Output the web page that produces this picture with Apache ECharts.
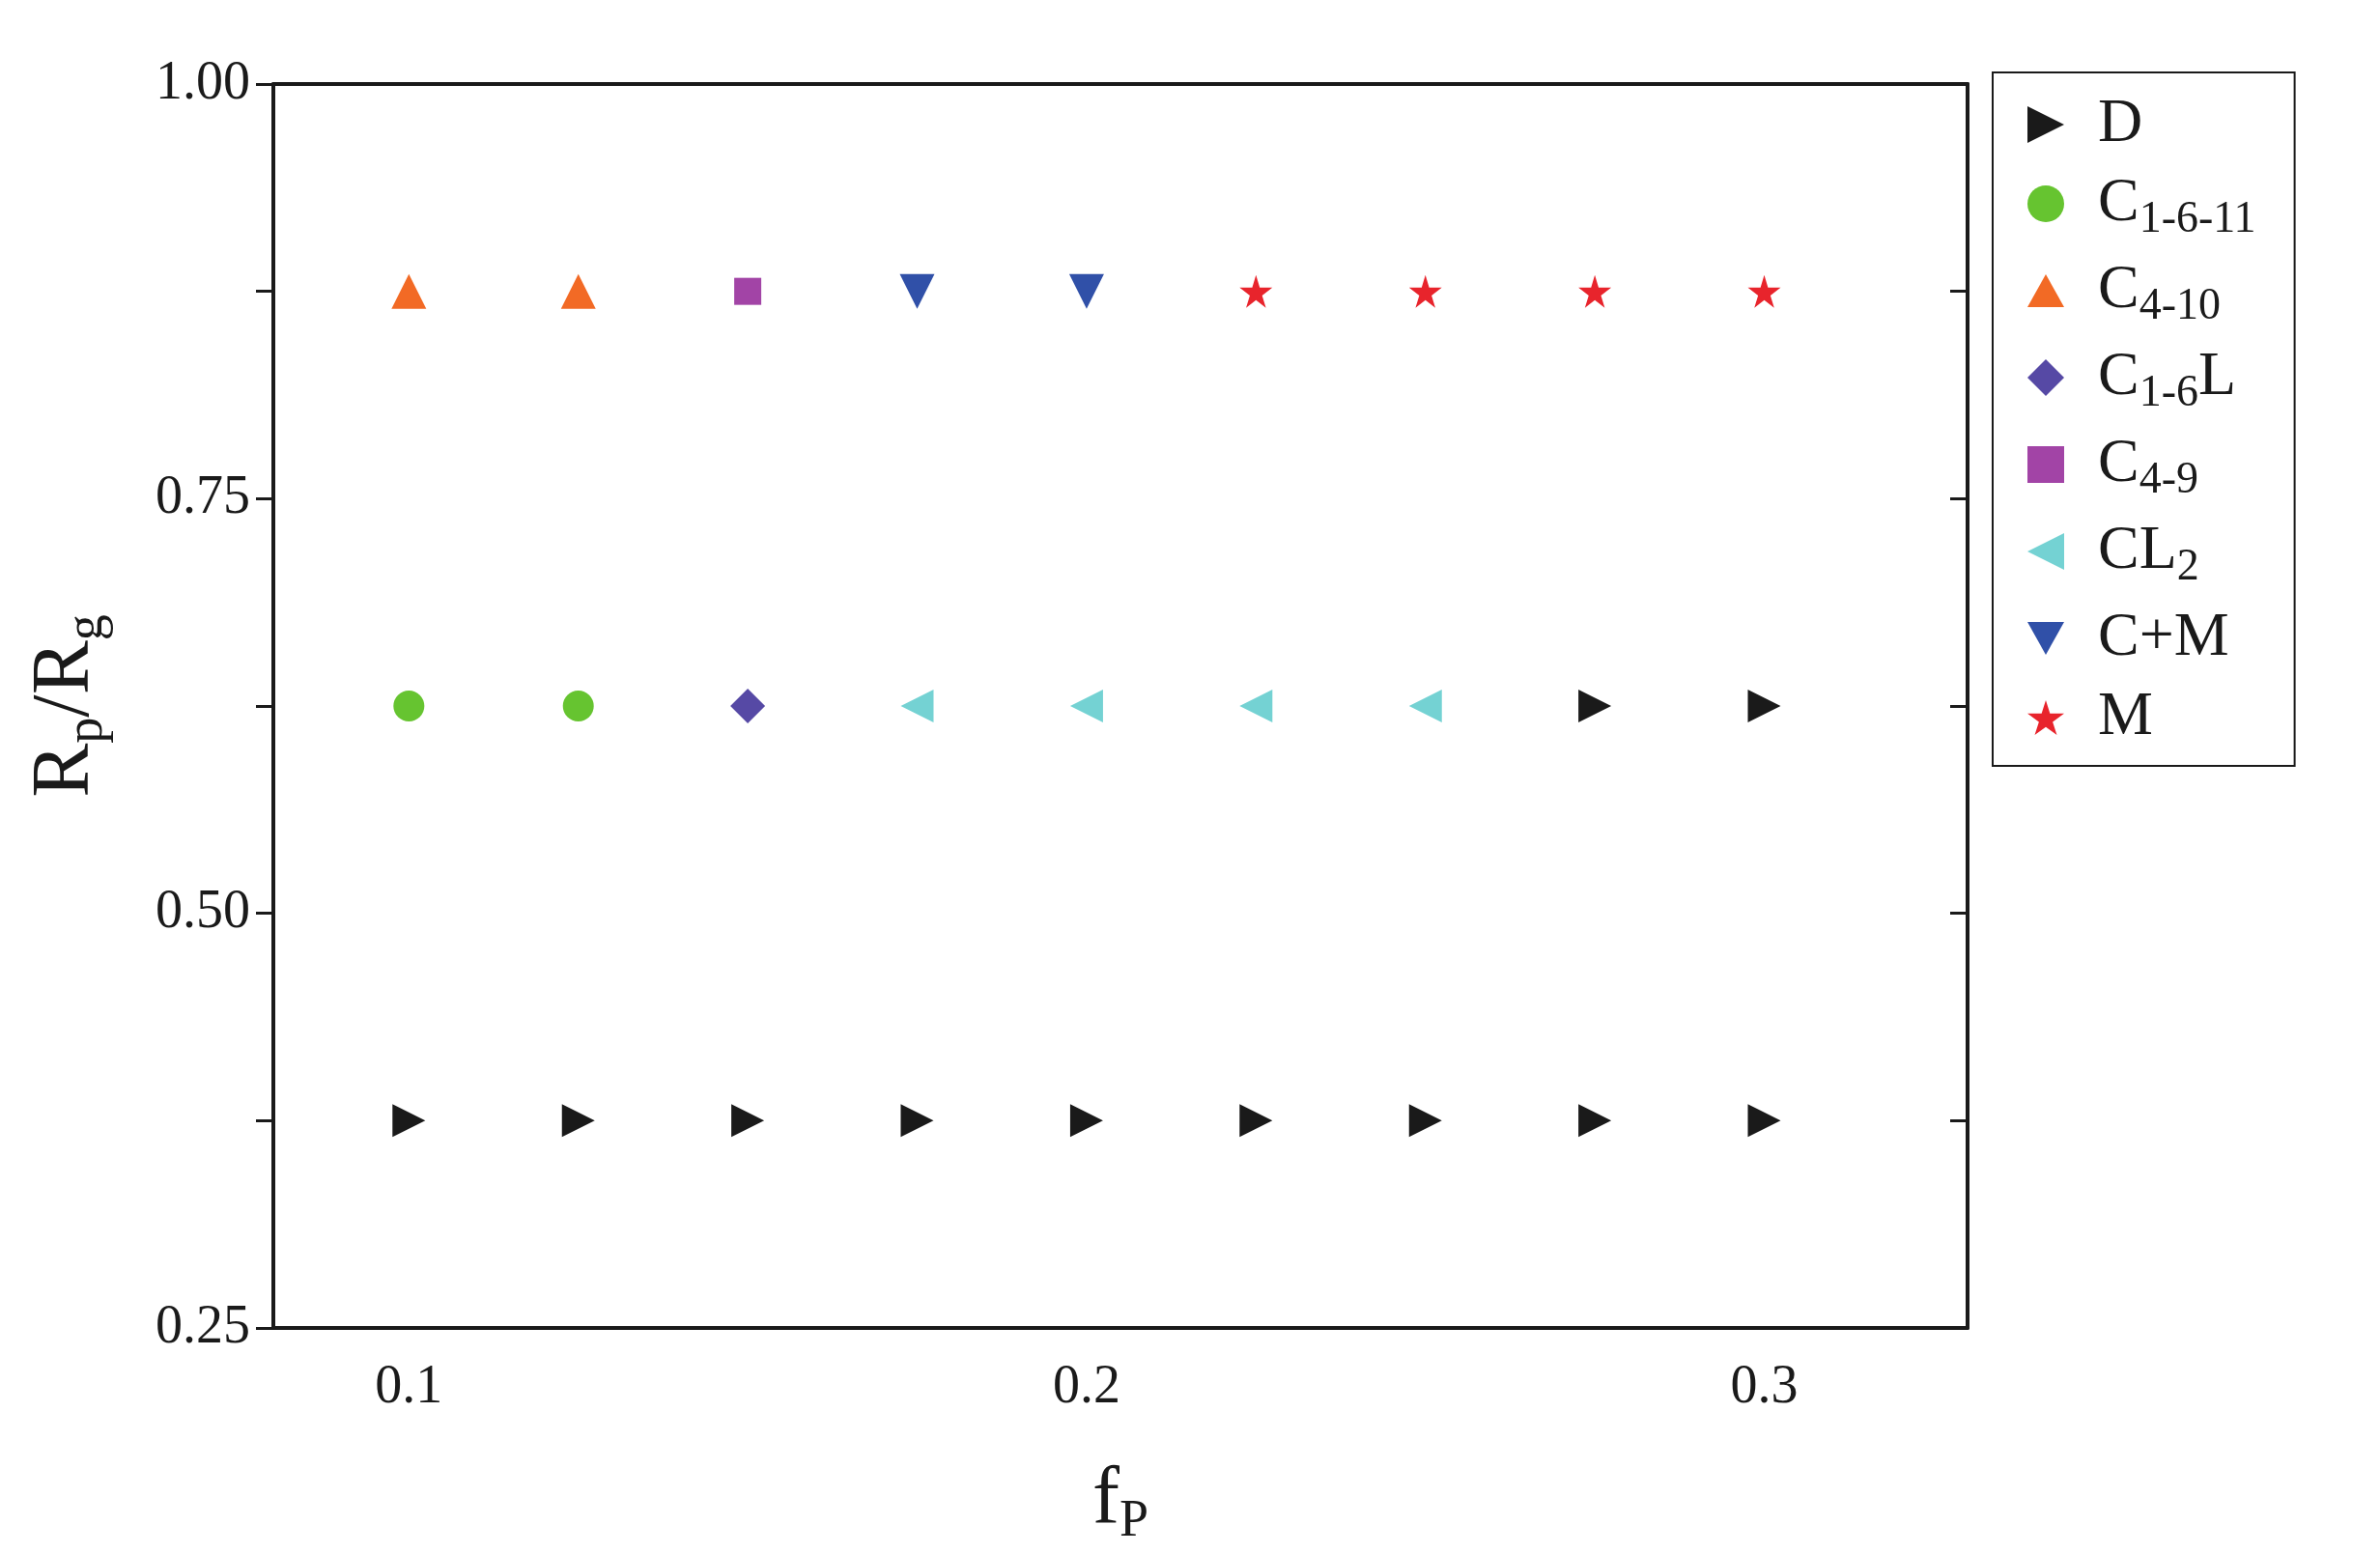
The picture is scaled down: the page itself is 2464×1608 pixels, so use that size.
<!DOCTYPE html>
<html><head><meta charset="utf-8">
<script src="https://cdn.jsdelivr.net/npm/echarts@6/dist/echarts.min.js"></script>
<style>html,body{margin:0;background:#fff}#c{width:2464px;height:1608px}</style>
</head><body><div id="c"></div>
<script>
// series data: [fP, Rp/Rg]
var dD = [[0.1,0.375],[0.125,0.375],[0.15,0.375],[0.175,0.375],[0.2,0.375],[0.225,0.375],[0.25,0.375],[0.275,0.375],[0.3,0.375],[0.275,0.625],[0.3,0.625]];
var dC1611 = [[0.1,0.625],[0.125,0.625]];
var dC410 = [[0.1,0.875],[0.125,0.875]];
var dC16L = [[0.15,0.625]];
var dC49 = [[0.15,0.875]];
var dCL2 = [[0.175,0.625],[0.2,0.625],[0.225,0.625],[0.25,0.625]];
var dCM = [[0.175,0.875],[0.2,0.875]];
var dM = [[0.225,0.875],[0.25,0.875],[0.275,0.875],[0.3,0.875]];
var xTicks = [0.1, 0.2, 0.3];

var star = 'path://M50,0 L61,35 L98,35 L68,57 L79,91 L50,70 L21,91 L32,57 L2,35 L39,35 Z';
var triR = 'path://M0,0 L100,50 L0,100 Z';
var triL = 'path://M100,0 L0,50 L100,100 Z';
var triD = 'path://M0,0 L100,0 L50,90 Z';
var triU = 'path://M50,0 L100,90 L0,90 Z';
var defs = [
  {name:'D', main:'D', sub:'', after:'', data:dD, color:'#1a1a1a', symbol:triR, size:34},
  {name:'C1-6-11', main:'C', sub:'1-6-11', after:'', data:dC1611, color:'#66c430', symbol:'circle', size:32},
  {name:'C4-10', main:'C', sub:'4-10', after:'', data:dC410, color:'#f26a25', symbol:triU, size:36},
  {name:'C1-6L', main:'C', sub:'1-6', after:'L', data:dC16L, color:'#5649a5', symbol:'diamond', size:36},
  {name:'C4-9', main:'C', sub:'4-9', after:'', data:dC49, color:'#a244a6', symbol:'rect', size:28},
  {name:'CL2', main:'CL', sub:'2', after:'', data:dCL2, color:'#74d2d3', symbol:triL, size:34},
  {name:'C+M', main:'C+M', sub:'', after:'', data:dCM, color:'#3050a8', symbol:triD, size:36},
  {name:'M', main:'M', sub:'', after:'', data:dM, color:'#e8242c', symbol:star, size:34}
];
var font = '"Liberation Serif", serif';
var tick = {length:18, lineStyle:{color:'#1a1a1a', width:3}};
var chart = echarts.init(document.getElementById('c'));
chart.setOption({
  animation:false,
  grid:{left:283, right:2464-2037, top:87, bottom:1608-1383},
  xAxis:[{type:'value', min:0.08, max:0.33,
    axisLine:{onZero:false, lineStyle:{color:'#1a1a1a', width:4}},
    axisTick:{show:false},
    axisLabel:{fontFamily:font, fontSize:56, color:'#1a1a1a', margin:34, customValues:xTicks, formatter:function(v){return v.toFixed(1);}},
    splitLine:{show:false},
    name:'{m|f}{s|P}', nameLocation:'middle', nameGap:130,
    nameTextStyle:{color:'#1a1a1a', rich:{m:{fontSize:84,fontFamily:font}, s:{fontSize:54,fontFamily:font,padding:[44,0,0,0]}}}
  },{type:'value', position:'top', min:0.08, max:0.33,
    axisLine:{show:true, onZero:false, lineStyle:{color:'#1a1a1a', width:4}}, axisTick:{show:false}, axisLabel:{show:false}, splitLine:{show:false}}],
  yAxis:[{type:'value', min:0.25, max:1.0, interval:0.25,
    axisLine:{onZero:false, lineStyle:{color:'#1a1a1a', width:4}},
    axisTick:tick,
    minorTick:{show:true, splitNumber:2, length:18, lineStyle:{color:'#1a1a1a', width:3}},
    axisLabel:{fontFamily:font, fontSize:56, color:'#1a1a1a', margin:24, formatter:function(v){return v.toFixed(2);}},
    splitLine:{show:false},
    name:'{m|R}{s|p}{m|/R}{s|g}', nameLocation:'middle', nameGap:165,
    nameTextStyle:{color:'#1a1a1a', rich:{m:{fontSize:84,fontFamily:font}, s:{fontSize:54,fontFamily:font,padding:[44,0,0,0]}}}
  },{type:'value', position:'right', min:0.25, max:1.0, interval:0.25,
    axisLine:{show:true, onZero:false, lineStyle:{color:'#1a1a1a', width:4}},
    axisTick:{inside:true, length:18, lineStyle:{color:'#1a1a1a', width:3}},
    minorTick:{show:true, splitNumber:2, length:18, lineStyle:{color:'#1a1a1a', width:3}},
    axisLabel:{show:false}, splitLine:{show:false}}],
  legend:{orient:'vertical', left:2063, top:75, padding:[22,40,18,36], itemGap:18,
    borderColor:'#1a1a1a', borderWidth:2, itemWidth:38, itemHeight:38,
    data:defs.map(function(d){return {name:d.name, icon:d.symbol, itemStyle:{color:d.color}};}),
    formatter:function(n){
      var d = defs.filter(function(x){return x.name===n;})[0];
      return '{m|'+d.main+'}'+(d.sub?'{s|'+d.sub+'}':'')+(d.after?'{m|'+d.after+'}':'');
    },
    textStyle:{color:'#1a1a1a', padding:[0,0,0,30], rich:{m:{fontSize:64,fontFamily:font}, s:{fontSize:46,fontFamily:font,padding:[34,0,0,0]}}}
  },
  series:defs.map(function(d){
    return {name:d.name, type:'scatter', data:d.data, symbol:d.symbol, symbolSize:d.size, itemStyle:{color:d.color, opacity:1}};
  })
});
</script></body></html>
